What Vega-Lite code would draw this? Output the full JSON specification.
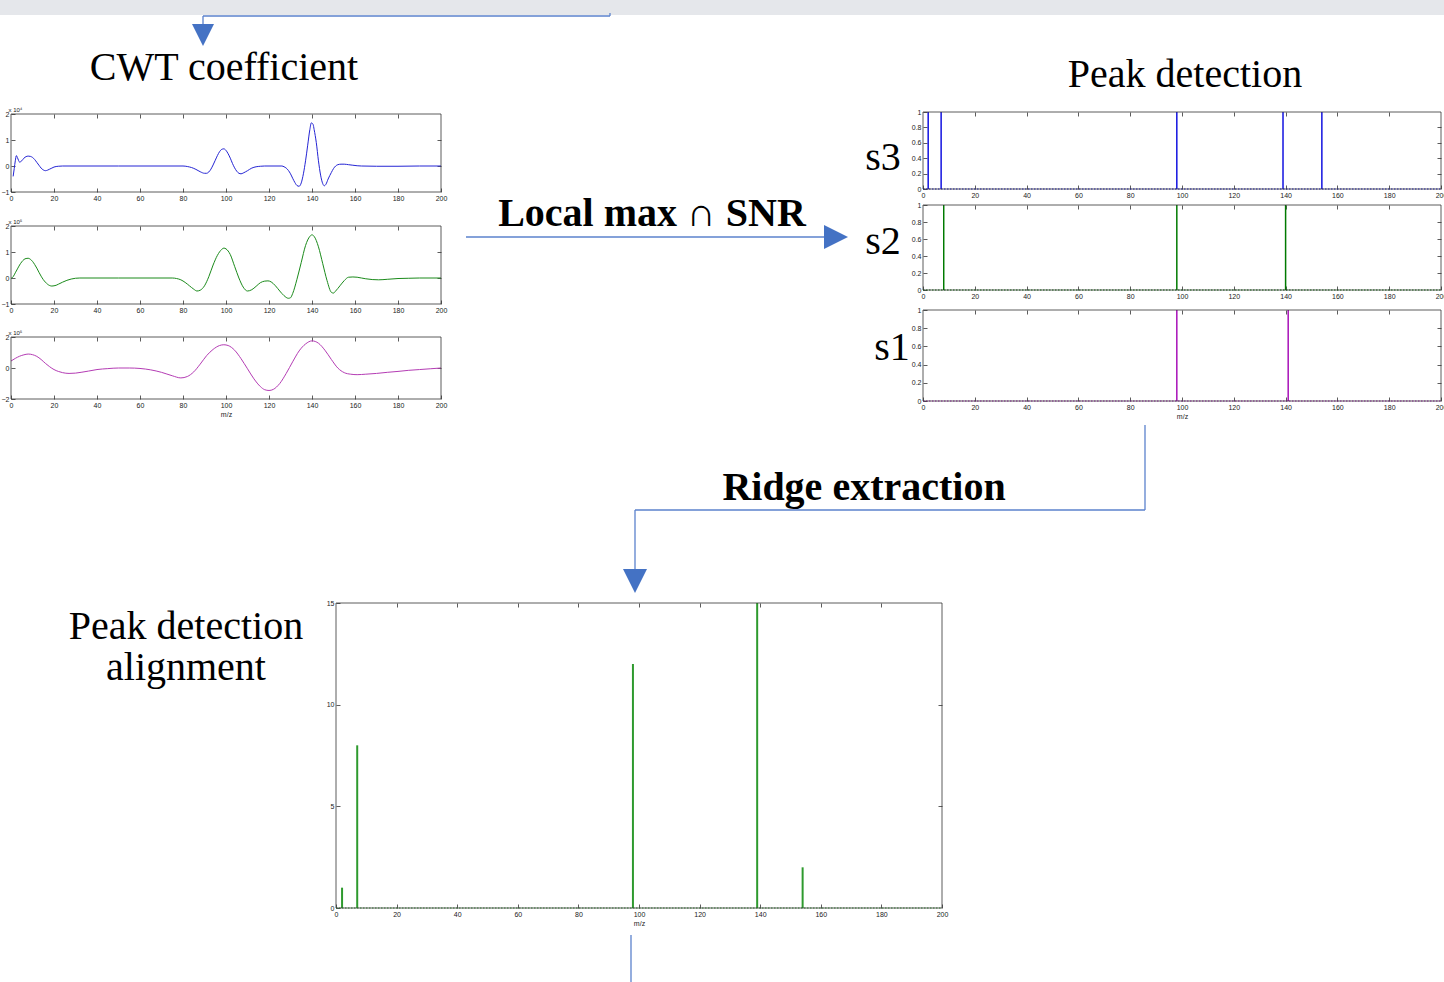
{
  "$schema": "https://vega.github.io/schema/vega-lite/v6.json",
  "width": 1444,
  "height": 982,
  "padding": 0,
  "autosize": {"type": "none"},
  "background": "white",
  "view": {"stroke": null},
  "config": {
    "axis": {
      "grid": false,
      "domain": false,
      "labelFont": "Liberation Sans",
      "labelFontSize": 7,
      "labelColor": "#222222",
      "tickColor": "#333333",
      "tickSize": -4,
      "tickWidth": 0.8,
      "labelPadding": 6,
      "labelFlush": false,
      "labelOverlap": false,
      "labelBound": false,
      "titleFont": "Liberation Sans",
      "titleFontSize": 7,
      "titleFontWeight": "normal",
      "titleColor": "#222222",
      "titlePadding": 2
    }
  },
  "data": {"values": [{}]},
  "datasets": {
    "cwt_s3": [{"mz":1,"coef":-0.4},{"mz":1.5,"coef":-0.1},{"mz":2,"coef":0.2},{"mz":2.5,"coef":0.4},{"mz":3,"coef":0.32},{"mz":4,"coef":0.15},{"mz":5,"coef":0.2},{"mz":6,"coef":0.3},{"mz":7,"coef":0.36},{"mz":8,"coef":0.38},{"mz":9,"coef":0.37},{"mz":10,"coef":0.33},{"mz":11,"coef":0.25},{"mz":12,"coef":0.14},{"mz":13,"coef":0.03},{"mz":14,"coef":-0.08},{"mz":15,"coef":-0.15},{"mz":16,"coef":-0.18},{"mz":17,"coef":-0.16},{"mz":18,"coef":-0.12},{"mz":19,"coef":-0.08},{"mz":20,"coef":-0.04},{"mz":22,"coef":-0.01},{"mz":24,"coef":0},{"mz":50,"coef":0},{"mz":80,"coef":0},{"mz":82,"coef":-0.02},{"mz":84,"coef":-0.06},{"mz":86,"coef":-0.13},{"mz":88,"coef":-0.22},{"mz":90,"coef":-0.28},{"mz":91,"coef":-0.28},{"mz":92,"coef":-0.23},{"mz":93,"coef":-0.12},{"mz":94,"coef":0.04},{"mz":95,"coef":0.22},{"mz":96,"coef":0.4},{"mz":97,"coef":0.55},{"mz":98,"coef":0.64},{"mz":99,"coef":0.66},{"mz":100,"coef":0.6},{"mz":101,"coef":0.47},{"mz":102,"coef":0.3},{"mz":103,"coef":0.1},{"mz":104,"coef":-0.07},{"mz":105,"coef":-0.2},{"mz":106,"coef":-0.28},{"mz":107,"coef":-0.3},{"mz":108,"coef":-0.27},{"mz":110,"coef":-0.18},{"mz":112,"coef":-0.08},{"mz":114,"coef":-0.03},{"mz":116,"coef":-0.01},{"mz":118,"coef":0},{"mz":126,"coef":0},{"mz":127,"coef":-0.03},{"mz":128,"coef":-0.08},{"mz":129,"coef":-0.17},{"mz":130,"coef":-0.3},{"mz":131,"coef":-0.47},{"mz":132,"coef":-0.63},{"mz":133,"coef":-0.75},{"mz":134,"coef":-0.78},{"mz":135,"coef":-0.65},{"mz":136,"coef":-0.3},{"mz":137,"coef":0.2},{"mz":138,"coef":0.8},{"mz":139,"coef":1.4},{"mz":139.7,"coef":1.66},{"mz":140.5,"coef":1.6},{"mz":141,"coef":1.4},{"mz":142,"coef":0.9},{"mz":143,"coef":0.2},{"mz":144,"coef":-0.35},{"mz":145,"coef":-0.68},{"mz":145.7,"coef":-0.76},{"mz":146.5,"coef":-0.7},{"mz":147.5,"coef":-0.5},{"mz":149,"coef":-0.25},{"mz":150,"coef":-0.1},{"mz":151,"coef":0},{"mz":152,"coef":0.05},{"mz":153.5,"coef":0.07},{"mz":155,"coef":0.07},{"mz":157,"coef":0.05},{"mz":159,"coef":0.03},{"mz":161,"coef":0.01},{"mz":163,"coef":0},{"mz":170,"coef":-0.01},{"mz":180,"coef":-0.01},{"mz":190,"coef":0},{"mz":200,"coef":0}],
    "cwt_s2": [{"mz":0,"coef":-0.02},{"mz":1,"coef":0.05},{"mz":2,"coef":0.2},{"mz":3,"coef":0.35},{"mz":4,"coef":0.5},{"mz":5,"coef":0.62},{"mz":6,"coef":0.71},{"mz":7,"coef":0.75},{"mz":8,"coef":0.76},{"mz":9,"coef":0.72},{"mz":10,"coef":0.64},{"mz":11,"coef":0.52},{"mz":12,"coef":0.38},{"mz":13,"coef":0.22},{"mz":14,"coef":0.07},{"mz":15,"coef":-0.06},{"mz":16,"coef":-0.16},{"mz":17,"coef":-0.24},{"mz":18,"coef":-0.29},{"mz":19,"coef":-0.31},{"mz":20,"coef":-0.3},{"mz":21,"coef":-0.28},{"mz":22,"coef":-0.24},{"mz":24,"coef":-0.16},{"mz":26,"coef":-0.09},{"mz":28,"coef":-0.04},{"mz":30,"coef":-0.01},{"mz":32,"coef":0},{"mz":50,"coef":0},{"mz":75,"coef":0},{"mz":77,"coef":-0.02},{"mz":79,"coef":-0.07},{"mz":81,"coef":-0.17},{"mz":83,"coef":-0.3},{"mz":85,"coef":-0.43},{"mz":86.5,"coef":-0.5},{"mz":88,"coef":-0.47},{"mz":90,"coef":-0.3},{"mz":92,"coef":0.05},{"mz":94,"coef":0.5},{"mz":96,"coef":0.87},{"mz":98,"coef":1.1},{"mz":99,"coef":1.15},{"mz":100,"coef":1.12},{"mz":102,"coef":0.9},{"mz":104,"coef":0.45},{"mz":106,"coef":0},{"mz":108,"coef":-0.35},{"mz":110,"coef":-0.5},{"mz":112,"coef":-0.45},{"mz":114,"coef":-0.32},{"mz":116,"coef":-0.18},{"mz":118,"coef":-0.12},{"mz":119.5,"coef":-0.11},{"mz":121,"coef":-0.15},{"mz":123,"coef":-0.3},{"mz":125,"coef":-0.5},{"mz":127,"coef":-0.68},{"mz":129,"coef":-0.78},{"mz":130,"coef":-0.76},{"mz":131,"coef":-0.6},{"mz":133,"coef":-0.05},{"mz":135,"coef":0.6},{"mz":137,"coef":1.25},{"mz":139,"coef":1.6},{"mz":140,"coef":1.66},{"mz":141,"coef":1.6},{"mz":143,"coef":1.2},{"mz":145,"coef":0.55},{"mz":147,"coef":-0.1},{"mz":149,"coef":-0.55},{"mz":150,"coef":-0.58},{"mz":151,"coef":-0.5},{"mz":153,"coef":-0.3},{"mz":155,"coef":-0.1},{"mz":157,"coef":0.03},{"mz":159,"coef":0.04},{"mz":161,"coef":0.03},{"mz":163,"coef":0},{"mz":165,"coef":-0.03},{"mz":168,"coef":-0.06},{"mz":171,"coef":-0.07},{"mz":175,"coef":-0.05},{"mz":180,"coef":-0.02},{"mz":185,"coef":-0.01},{"mz":190,"coef":0},{"mz":200,"coef":0}],
    "cwt_s1": [{"mz":0,"coef":0.45},{"mz":2,"coef":0.62},{"mz":4,"coef":0.76},{"mz":6,"coef":0.85},{"mz":8,"coef":0.9},{"mz":10,"coef":0.86},{"mz":12,"coef":0.75},{"mz":14,"coef":0.55},{"mz":16,"coef":0.3},{"mz":18,"coef":0.08},{"mz":20,"coef":-0.1},{"mz":22,"coef":-0.22},{"mz":24,"coef":-0.3},{"mz":27,"coef":-0.35},{"mz":30,"coef":-0.33},{"mz":33,"coef":-0.27},{"mz":36,"coef":-0.2},{"mz":40,"coef":-0.1},{"mz":45,"coef":-0.04},{"mz":50,"coef":0},{"mz":55,"coef":0},{"mz":60,"coef":-0.03},{"mz":65,"coef":-0.12},{"mz":70,"coef":-0.28},{"mz":75,"coef":-0.5},{"mz":79,"coef":-0.64},{"mz":82,"coef":-0.55},{"mz":85,"coef":-0.25},{"mz":88,"coef":0.25},{"mz":91,"coef":0.8},{"mz":94,"coef":1.2},{"mz":97,"coef":1.45},{"mz":99,"coef":1.5},{"mz":101,"coef":1.45},{"mz":104,"coef":1.15},{"mz":107,"coef":0.6},{"mz":110,"coef":-0.05},{"mz":113,"coef":-0.7},{"mz":116,"coef":-1.2},{"mz":118,"coef":-1.4},{"mz":120,"coef":-1.45},{"mz":122,"coef":-1.38},{"mz":125,"coef":-1.0},{"mz":128,"coef":-0.35},{"mz":131,"coef":0.4},{"mz":134,"coef":1.1},{"mz":137,"coef":1.55},{"mz":140,"coef":1.75},{"mz":143,"coef":1.6},{"mz":146,"coef":1.15},{"mz":149,"coef":0.55},{"mz":152,"coef":0},{"mz":155,"coef":-0.3},{"mz":158,"coef":-0.4},{"mz":161,"coef":-0.43},{"mz":165,"coef":-0.4},{"mz":170,"coef":-0.35},{"mz":175,"coef":-0.28},{"mz":180,"coef":-0.22},{"mz":185,"coef":-0.15},{"mz":190,"coef":-0.1},{"mz":195,"coef":-0.05},{"mz":200,"coef":0}],
    "peaks_s3": [{"mz":2,"hit":1},{"mz":7,"hit":1},{"mz":98,"hit":1},{"mz":139,"hit":1},{"mz":154,"hit":1}],
    "peaks_s2": [{"mz":8,"hit":1},{"mz":98,"hit":1},{"mz":140,"hit":1}],
    "peaks_s1": [{"mz":98,"hit":1},{"mz":141,"hit":1}],
    "aligned": [{"mz":2,"count":1},{"mz":7,"count":8},{"mz":98,"count":12},{"mz":139,"count":15},{"mz":154,"count":2}]
  },
  "resolve": {"scale": {"x": "independent", "y": "independent"}},
  "layer": [
    {"mark": {"type": "rect", "x": 0, "x2": 1444, "y": 0, "y2": 15, "color": "#e5e7eb"}, "encoding": {}},
    {"mark": {"type": "rule", "color": "#5b82cc", "strokeWidth": 1.3}, "encoding": {"x": {"value": 203}, "x2": {"value": 610}, "y": {"value": 16}, "y2": {"value": 16}}},
    {"mark": {"type": "rule", "color": "#5b82cc", "strokeWidth": 1.3}, "encoding": {"x": {"value": 610}, "x2": {"value": 610}, "y": {"value": 13}, "y2": {"value": 16}}},
    {"mark": {"type": "rule", "color": "#5b82cc", "strokeWidth": 1.3}, "encoding": {"x": {"value": 203}, "x2": {"value": 203}, "y": {"value": 16}, "y2": {"value": 26}}},
    {"mark": {"type": "point", "shape": "M-1,-1L1,-1L0,1Z", "x": 203, "y": 35, "size": 484, "filled": true, "color": "#4472c4", "opacity": 1}, "encoding": {}},
    {"mark": {"type": "text", "x": 224, "y": 80, "text": "CWT coefficient", "font": "Liberation Serif", "fontSize": 40, "align": "center", "baseline": "alphabetic", "color": "#000000"}, "encoding": {}},
    {"mark": {"type": "text", "x": 1185, "y": 87, "text": "Peak detection", "font": "Liberation Serif", "fontSize": 40, "align": "center", "baseline": "alphabetic", "color": "#000000"}, "encoding": {}},
    {"mark": {"type": "text", "x": 652, "y": 226, "text": "Local max ∩ SNR", "font": "Liberation Serif", "fontSize": 40, "fontWeight": "bold", "align": "center", "baseline": "alphabetic", "color": "#000000"}, "encoding": {}},
    {"mark": {"type": "rule", "color": "#5b82cc", "strokeWidth": 1.3}, "encoding": {"x": {"value": 466}, "x2": {"value": 826}, "y": {"value": 237}, "y2": {"value": 237}}},
    {"mark": {"type": "point", "shape": "M-1,-1L1,0L-1,1Z", "x": 836, "y": 237, "size": 576, "filled": true, "color": "#4472c4", "opacity": 1}, "encoding": {}},
    {"mark": {"type": "text", "x": 883, "y": 170, "text": "s3", "font": "Liberation Serif", "fontSize": 40, "align": "center", "baseline": "alphabetic", "color": "#000000"}, "encoding": {}},
    {"mark": {"type": "text", "x": 883, "y": 254, "text": "s2", "font": "Liberation Serif", "fontSize": 40, "align": "center", "baseline": "alphabetic", "color": "#000000"}, "encoding": {}},
    {"mark": {"type": "text", "x": 892, "y": 360, "text": "s1", "font": "Liberation Serif", "fontSize": 40, "align": "center", "baseline": "alphabetic", "color": "#000000"}, "encoding": {}},
    {"mark": {"type": "rule", "color": "#5b82cc", "strokeWidth": 1.3}, "encoding": {"x": {"value": 1145}, "x2": {"value": 1145}, "y": {"value": 425}, "y2": {"value": 510}}},
    {"mark": {"type": "rule", "color": "#5b82cc", "strokeWidth": 1.3}, "encoding": {"x": {"value": 635}, "x2": {"value": 1145}, "y": {"value": 510}, "y2": {"value": 510}}},
    {"mark": {"type": "rule", "color": "#5b82cc", "strokeWidth": 1.3}, "encoding": {"x": {"value": 635}, "x2": {"value": 635}, "y": {"value": 510}, "y2": {"value": 572}}},
    {"mark": {"type": "point", "shape": "M-1,-1L1,-1L0,1Z", "x": 635, "y": 581, "size": 576, "filled": true, "color": "#4472c4", "opacity": 1}, "encoding": {}},
    {"mark": {"type": "text", "x": 864, "y": 500, "text": "Ridge extraction", "font": "Liberation Serif", "fontSize": 40, "fontWeight": "bold", "align": "center", "baseline": "alphabetic", "color": "#000000"}, "encoding": {}},
    {"mark": {"type": "text", "x": 186, "y": 607, "text": ["Peak detection", "alignment"], "lineHeight": 41, "font": "Liberation Serif", "fontSize": 40, "align": "center", "baseline": "top", "color": "#000000"}, "encoding": {}},
    {"mark": {"type": "rule", "color": "#5b82cc", "strokeWidth": 1.3}, "encoding": {"x": {"value": 631}, "x2": {"value": 631}, "y": {"value": 935}, "y2": {"value": 982}}},

    {"layer": [
      {"data": {"name": "cwt_s3"}, "mark": {"type": "line", "color": "#2424d4", "strokeWidth": 1, "interpolate": "monotone"},
       "encoding": {
         "x": {"field": "mz", "type": "quantitative", "scale": {"domain": [0, 200], "range": [11, 441], "nice": false, "zero": false},
               "axis": {"orient": "bottom", "offset": -790, "values": [0,20,40,60,80,100,120,140,160,180,200], "format": "d", "title": null}},
         "y": {"field": "coef", "type": "quantitative", "scale": {"domain": [-1, 2], "range": [192, 114], "nice": false, "zero": false},
               "axis": {"orient": "left", "offset": -11, "values": [-1,0,1,2], "format": "d", "title": "x 10⁴", "titleAngle": 0, "titleAlign": "left", "titleBaseline": "alphabetic", "titleX": -3, "titleY": 111, "titleFontSize": 6}}
       }},
      {"mark": {"type": "rect", "filled": false, "stroke": "#333333", "strokeWidth": 0.8},
       "encoding": {
         "x": {"datum": 0, "type": "quantitative", "scale": {"domain": [0, 200], "range": [11, 441], "nice": false, "zero": false},
               "axis": {"orient": "top", "offset": -114, "values": [20,40,60,80,100,120,140,160,180], "labels": false, "title": null}},
         "x2": {"datum": 200},
         "y": {"datum": -1, "type": "quantitative", "scale": {"domain": [-1, 2], "range": [192, 114], "nice": false, "zero": false},
               "axis": {"orient": "right", "offset": -1003, "values": [0,1], "labels": false, "title": null}},
         "y2": {"datum": 2}
       }}
    ]},

    {"layer": [
      {"data": {"name": "cwt_s2"}, "mark": {"type": "line", "color": "#1a8a1a", "strokeWidth": 1, "interpolate": "monotone"},
       "encoding": {
         "x": {"field": "mz", "type": "quantitative", "scale": {"domain": [0, 200], "range": [11, 441], "nice": false, "zero": false},
               "axis": {"orient": "bottom", "offset": -678, "values": [0,20,40,60,80,100,120,140,160,180,200], "format": "d", "title": null}},
         "y": {"field": "coef", "type": "quantitative", "scale": {"domain": [-1, 2], "range": [304, 226], "nice": false, "zero": false},
               "axis": {"orient": "left", "offset": -11, "values": [-1,0,1,2], "format": "d", "title": "x 10⁵", "titleAngle": 0, "titleAlign": "left", "titleBaseline": "alphabetic", "titleX": -3, "titleY": 223, "titleFontSize": 6}}
       }},
      {"mark": {"type": "rect", "filled": false, "stroke": "#333333", "strokeWidth": 0.8},
       "encoding": {
         "x": {"datum": 0, "type": "quantitative", "scale": {"domain": [0, 200], "range": [11, 441], "nice": false, "zero": false},
               "axis": {"orient": "top", "offset": -226, "values": [20,40,60,80,100,120,140,160,180], "labels": false, "title": null}},
         "x2": {"datum": 200},
         "y": {"datum": -1, "type": "quantitative", "scale": {"domain": [-1, 2], "range": [304, 226], "nice": false, "zero": false},
               "axis": {"orient": "right", "offset": -1003, "values": [0,1], "labels": false, "title": null}},
         "y2": {"datum": 2}
       }}
    ]},

    {"layer": [
      {"data": {"name": "cwt_s1"}, "mark": {"type": "line", "color": "#b43cb4", "strokeWidth": 1, "interpolate": "monotone"},
       "encoding": {
         "x": {"field": "mz", "type": "quantitative", "scale": {"domain": [0, 200], "range": [11, 441], "nice": false, "zero": false},
               "axis": {"orient": "bottom", "offset": -583, "values": [0,20,40,60,80,100,120,140,160,180,200], "format": "d", "title": "m/z"}},
         "y": {"field": "coef", "type": "quantitative", "scale": {"domain": [-2, 2], "range": [399, 337], "nice": false, "zero": false},
               "axis": {"orient": "left", "offset": -11, "values": [-2,0,2], "format": "d", "title": "x 10⁵", "titleAngle": 0, "titleAlign": "left", "titleBaseline": "alphabetic", "titleX": -3, "titleY": 334, "titleFontSize": 6}}
       }},
      {"mark": {"type": "rect", "filled": false, "stroke": "#333333", "strokeWidth": 0.8},
       "encoding": {
         "x": {"datum": 0, "type": "quantitative", "scale": {"domain": [0, 200], "range": [11, 441], "nice": false, "zero": false},
               "axis": {"orient": "top", "offset": -337, "values": [20,40,60,80,100,120,140,160,180], "labels": false, "title": null}},
         "x2": {"datum": 200},
         "y": {"datum": -2, "type": "quantitative", "scale": {"domain": [-2, 2], "range": [399, 337], "nice": false, "zero": false},
               "axis": {"orient": "right", "offset": -1003, "values": [0], "labels": false, "title": null}},
         "y2": {"datum": 2}
       }}
    ]},

    {"layer": [
      {"data": {"name": "peaks_s3"}, "mark": {"type": "rule", "color": "#1212e0", "strokeWidth": 1.5},
       "encoding": {
         "x": {"field": "mz", "type": "quantitative", "scale": {"domain": [0, 200], "range": [923, 1441], "nice": false, "zero": false},
               "axis": {"orient": "bottom", "offset": -793, "values": [0,20,40,60,80,100,120,140,160,180,200], "format": "d", "title": null}},
         "y": {"field": "hit", "type": "quantitative", "scale": {"domain": [0, 1], "range": [189, 112], "nice": false, "zero": false},
               "axis": {"orient": "left", "offset": -923, "values": [0,0.2,0.4,0.6,0.8,1], "format": "~g", "title": null}},
         "y2": {"datum": 0}
       }},
      {"mark": {"type": "rule", "color": "#1212e0", "strokeWidth": 1, "strokeDash": [1.5, 1.5]},
       "encoding": {
         "x": {"datum": 0, "type": "quantitative", "scale": {"domain": [0, 200], "range": [923, 1441], "nice": false, "zero": false}, "axis": null},
         "x2": {"datum": 200},
         "y": {"datum": 0, "type": "quantitative", "scale": {"domain": [0, 1], "range": [189, 112], "nice": false, "zero": false}, "axis": null}
       }},
      {"mark": {"type": "rect", "filled": false, "stroke": "#333333", "strokeWidth": 0.8},
       "encoding": {
         "x": {"datum": 0, "type": "quantitative", "scale": {"domain": [0, 200], "range": [923, 1441], "nice": false, "zero": false},
               "axis": {"orient": "top", "offset": -112, "values": [20,40,60,80,100,120,140,160,180], "labels": false, "title": null}},
         "x2": {"datum": 200},
         "y": {"datum": 0, "type": "quantitative", "scale": {"domain": [0, 1], "range": [189, 112], "nice": false, "zero": false},
               "axis": {"orient": "right", "offset": -3, "values": [0.2,0.4,0.6,0.8], "labels": false, "title": null}},
         "y2": {"datum": 1}
       }}
    ]},

    {"layer": [
      {"data": {"name": "peaks_s2"}, "mark": {"type": "rule", "color": "#007a00", "strokeWidth": 1.5},
       "encoding": {
         "x": {"field": "mz", "type": "quantitative", "scale": {"domain": [0, 200], "range": [923, 1441], "nice": false, "zero": false},
               "axis": {"orient": "bottom", "offset": -692, "values": [0,20,40,60,80,100,120,140,160,180,200], "format": "d", "title": null}},
         "y": {"field": "hit", "type": "quantitative", "scale": {"domain": [0, 1], "range": [290, 205], "nice": false, "zero": false},
               "axis": {"orient": "left", "offset": -923, "values": [0,0.2,0.4,0.6,0.8,1], "format": "~g", "title": null}},
         "y2": {"datum": 0}
       }},
      {"mark": {"type": "rule", "color": "#007a00", "strokeWidth": 1, "strokeDash": [1.5, 1.5]},
       "encoding": {
         "x": {"datum": 0, "type": "quantitative", "scale": {"domain": [0, 200], "range": [923, 1441], "nice": false, "zero": false}, "axis": null},
         "x2": {"datum": 200},
         "y": {"datum": 0, "type": "quantitative", "scale": {"domain": [0, 1], "range": [290, 205], "nice": false, "zero": false}, "axis": null}
       }},
      {"mark": {"type": "rect", "filled": false, "stroke": "#333333", "strokeWidth": 0.8},
       "encoding": {
         "x": {"datum": 0, "type": "quantitative", "scale": {"domain": [0, 200], "range": [923, 1441], "nice": false, "zero": false},
               "axis": {"orient": "top", "offset": -205, "values": [20,40,60,80,100,120,140,160,180], "labels": false, "title": null}},
         "x2": {"datum": 200},
         "y": {"datum": 0, "type": "quantitative", "scale": {"domain": [0, 1], "range": [290, 205], "nice": false, "zero": false},
               "axis": {"orient": "right", "offset": -3, "values": [0.2,0.4,0.6,0.8], "labels": false, "title": null}},
         "y2": {"datum": 1}
       }}
    ]},

    {"layer": [
      {"data": {"name": "peaks_s1"}, "mark": {"type": "rule", "color": "#a810b8", "strokeWidth": 1.5},
       "encoding": {
         "x": {"field": "mz", "type": "quantitative", "scale": {"domain": [0, 200], "range": [923, 1441], "nice": false, "zero": false},
               "axis": {"orient": "bottom", "offset": -581, "values": [0,20,40,60,80,100,120,140,160,180,200], "format": "d", "title": "m/z"}},
         "y": {"field": "hit", "type": "quantitative", "scale": {"domain": [0, 1], "range": [401, 310], "nice": false, "zero": false},
               "axis": {"orient": "left", "offset": -923, "values": [0,0.2,0.4,0.6,0.8,1], "format": "~g", "title": null}},
         "y2": {"datum": 0}
       }},
      {"mark": {"type": "rule", "color": "#a810b8", "strokeWidth": 1, "strokeDash": [1.5, 1.5]},
       "encoding": {
         "x": {"datum": 0, "type": "quantitative", "scale": {"domain": [0, 200], "range": [923, 1441], "nice": false, "zero": false}, "axis": null},
         "x2": {"datum": 200},
         "y": {"datum": 0, "type": "quantitative", "scale": {"domain": [0, 1], "range": [401, 310], "nice": false, "zero": false}, "axis": null}
       }},
      {"mark": {"type": "rect", "filled": false, "stroke": "#333333", "strokeWidth": 0.8},
       "encoding": {
         "x": {"datum": 0, "type": "quantitative", "scale": {"domain": [0, 200], "range": [923, 1441], "nice": false, "zero": false},
               "axis": {"orient": "top", "offset": -310, "values": [20,40,60,80,100,120,140,160,180], "labels": false, "title": null}},
         "x2": {"datum": 200},
         "y": {"datum": 0, "type": "quantitative", "scale": {"domain": [0, 1], "range": [401, 310], "nice": false, "zero": false},
               "axis": {"orient": "right", "offset": -3, "values": [0.2,0.4,0.6,0.8], "labels": false, "title": null}},
         "y2": {"datum": 1}
       }}
    ]},

    {"layer": [
      {"data": {"name": "aligned"}, "mark": {"type": "rule", "color": "#2e9a2e", "strokeWidth": 2},
       "encoding": {
         "x": {"field": "mz", "type": "quantitative", "scale": {"domain": [0, 200], "range": [336, 942], "nice": false, "zero": false},
               "axis": {"orient": "bottom", "offset": -74, "values": [0,20,40,60,80,100,120,140,160,180,200], "format": "d", "title": "m/z"}},
         "y": {"field": "count", "type": "quantitative", "scale": {"domain": [0, 15], "range": [908, 603], "nice": false, "zero": false},
               "axis": {"orient": "left", "offset": -336, "values": [0,5,10,15], "format": "d", "title": null}},
         "y2": {"datum": 0}
       }},
      {"mark": {"type": "rule", "color": "#2e9a2e", "strokeWidth": 1, "strokeDash": [1.5, 1.5]},
       "encoding": {
         "x": {"datum": 0, "type": "quantitative", "scale": {"domain": [0, 200], "range": [336, 942], "nice": false, "zero": false}, "axis": null},
         "x2": {"datum": 200},
         "y": {"datum": 0, "type": "quantitative", "scale": {"domain": [0, 15], "range": [908, 603], "nice": false, "zero": false}, "axis": null}
       }},
      {"mark": {"type": "rect", "filled": false, "stroke": "#333333", "strokeWidth": 0.8},
       "encoding": {
         "x": {"datum": 0, "type": "quantitative", "scale": {"domain": [0, 200], "range": [336, 942], "nice": false, "zero": false},
               "axis": {"orient": "top", "offset": -603, "values": [20,40,60,80,100,120,140,160,180], "labels": false, "title": null}},
         "x2": {"datum": 200},
         "y": {"datum": 0, "type": "quantitative", "scale": {"domain": [0, 15], "range": [908, 603], "nice": false, "zero": false},
               "axis": {"orient": "right", "offset": -502, "values": [5,10], "labels": false, "title": null}},
         "y2": {"datum": 15}
       }}
    ]}
  ]
}
